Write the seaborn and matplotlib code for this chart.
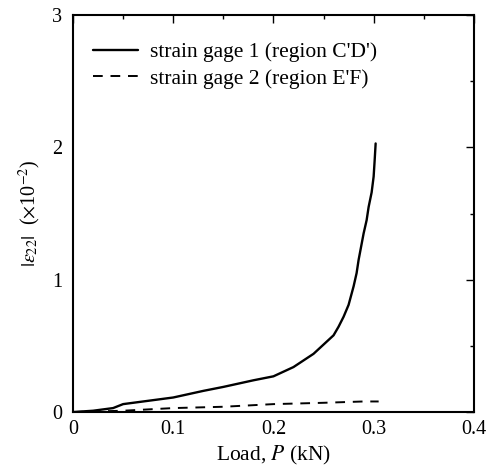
import numpy as np
import pandas as pd
import matplotlib
matplotlib.use("Agg")
import matplotlib.pyplot as plt
import seaborn as sns
from matplotlib.ticker import MultipleLocator

# Data
load_g1 = [0.0, 0.02, 0.04, 0.05, 0.07, 0.10, 0.13, 0.15, 0.18, 0.20, 0.22, 0.24, 0.25, 0.26, 0.265,
           0.27, 0.275, 0.28, 0.283, 0.285, 0.288, 0.29, 0.293, 0.295, 0.298, 0.30, 0.301, 0.302]
strain_g1 = [0.0, 0.01, 0.03, 0.06, 0.08, 0.11, 0.16, 0.19, 0.24, 0.27, 0.34, 0.44, 0.51, 0.58, 0.645,
             0.72, 0.81, 0.95, 1.05, 1.15, 1.27, 1.35, 1.45, 1.55, 1.66, 1.78, 1.90, 2.03]
load_g2 = [0.0, 0.05, 0.10, 0.15, 0.20, 0.25, 0.29, 0.305]
strain_g2 = [0.0, 0.01, 0.03, 0.04, 0.06, 0.07, 0.08, 0.08]

x_ticks = [0.0, 0.1, 0.2, 0.3, 0.4]
x_ticklabels = ["0", "0.1", "0.2", "0.3", "0.4"]
y_ticks = [0, 1, 2, 3]
y_ticklabels = ["0", "1", "2", "3"]

label_g1 = "strain gage 1 (region C'D')"
label_g2 = "strain gage 2 (region E'F)"

df1 = pd.DataFrame({"P": load_g1, "e": strain_g1})
df2 = pd.DataFrame({"P": load_g2, "e": strain_g2})

sns.set_theme(style="white")
plt.rcParams['font.family'] = ['Liberation Serif', 'DejaVu Serif']
plt.rcParams['mathtext.fontset'] = 'stix'

fig = plt.figure(figsize=(4.88, 4.72), dpi=100)
ax = fig.add_axes([0.1496, 0.127, 0.8214, 0.841])

sns.lineplot(data=df1, x="P", y="e", ax=ax, color="black", linewidth=1.7,
             sort=False, estimator=None, label=label_g1)
sns.lineplot(data=df2, x="P", y="e", ax=ax, color="black", linewidth=1.4,
             linestyle=(0, (5, 4)), sort=False, estimator=None, label=label_g2)

ax.set_xlim(0, 0.4)
ax.set_ylim(0, 3)
ax.set_xticks(x_ticks)
ax.set_xticklabels(x_ticklabels)
ax.set_yticks(y_ticks)
ax.set_yticklabels(y_ticklabels)
ax.xaxis.set_minor_locator(MultipleLocator(0.05))
ax.yaxis.set_minor_locator(MultipleLocator(0.5))
ax.tick_params(which="both", direction="in", top=True, right=True, colors="black",
               labelsize=14.5, width=1)
ax.tick_params(which="major", length=6)
ax.tick_params(which="minor", length=3)
ax.tick_params(axis="x", which="major", pad=6)
ax.tick_params(axis="y", which="major", pad=8)
for s in ax.spines.values():
    s.set_color("black")
    s.set_linewidth(1.5)

ax.set_xlabel("Load, $P$ (kN)", fontsize=15.5, color="black", labelpad=3)
ax.set_ylabel(r"$|\varepsilon_{22}|$  ($\times$10$^{-2}$)", fontsize=14.5, color="black", labelpad=6)

leg = ax.legend(loc="upper left", frameon=False, fontsize=15.5, handlelength=2.1,
                handletextpad=0.55, borderaxespad=0.0, labelspacing=0.28,
                bbox_to_anchor=(0.028, 0.953))
for t in leg.get_texts():
    t.set_color("black")

fig.savefig("out.png", dpi=100)
